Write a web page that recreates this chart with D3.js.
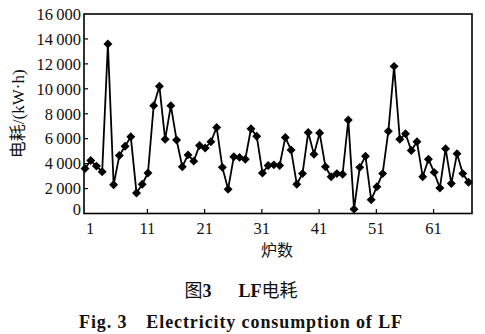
<!DOCTYPE html>
<html><head><meta charset="utf-8">
<script src="https://cdn.jsdelivr.net/npm/d3@7"></script>
<style>body{margin:0;background:#fff}svg{display:block}</style>
</head><body>
<svg id="c" width="485" height="334"></svg>
<script>
const furnaces = d3.range(1, 69);
const energy = [3600,4250,3800,3350,13600,2300,4650,5400,6150,1650,
  2350,3250,8650,10200,5950,8650,5900,3750,4700,4200,
  5450,5250,5750,6900,3700,1950,4550,4500,4350,6800,
  6200,3250,3850,3900,3850,6100,5100,2350,3200,6500,
  4750,6450,3750,2950,3200,3150,7500,350,3700,4600,
  1100,2150,3200,6600,11800,5950,6400,5050,5750,2950,
  4350,3300,2050,5200,2400,4800,3200,2500];
const xTicks = [1,11,21,31,41,51,61];
const yTicks = [0,2000,4000,6000,8000,10000,12000,14000,16000];
const xLabel = "炉数";
const captionEN = "Fig. 3\u2003Electricity consumption of LF";

const svg = d3.select("#c");
const L = 84, R = 472, T = 14, B = 213.5;
const x = d3.scaleLinear().domain([1, 68]).range([85, 468.5]);
const tickShift = 0.9;
const y = d3.scaleLinear().domain([0, 16000]).range([B, T]);
const serif = "'Liberation Serif','DejaVu Serif',serif";
const cjk = "'Noto Sans CJK SC',sans-serif";

// frame
svg.append("rect").attr("x", L).attr("y", T).attr("width", R - L).attr("height", B - T)
  .attr("fill", "none").attr("stroke", "#000").attr("stroke-width", 1.6);

// y ticks (inward) & labels
const fmt = v => v >= 1000 ? d3.format(",")(v).replace(/,/g, "\u2009") : String(v);
yTicks.forEach(v => {
  if (v !== 0 && v !== 16000)
    svg.append("line").attr("x1", L).attr("x2", L + 4).attr("y1", y(v)).attr("y2", y(v))
      .attr("stroke", "#000").attr("stroke-width", 1.2);
  svg.append("text").attr("x", 81).attr("y", v === 0 ? y(v) - 4 : y(v))
    .attr("dy", "0.35em").attr("text-anchor", "end")
    .attr("font-family", serif).attr("font-size", 16.5).attr("fill", "#111").text(fmt(v));
});
// x ticks (inward) & labels
xTicks.forEach(v => {
  const px = x(v + tickShift);
  if (v !== 1)
    svg.append("line").attr("x1", px).attr("x2", px).attr("y1", B).attr("y2", B - 4.5)
      .attr("stroke", "#000").attr("stroke-width", 1.2);
  svg.append("text").attr("x", px).attr("y", 233.5).attr("text-anchor", "middle")
    .attr("font-family", serif).attr("font-size", 16.5).attr("fill", "#111").text(v);
});

// series
const pts = furnaces.map((f, i) => [f, energy[i]]);
svg.append("path").datum(pts)
  .attr("d", d3.line().x(d => x(d[0])).y(d => y(d[1])))
  .attr("fill", "none").attr("stroke", "#000").attr("stroke-width", 1.8);
const sym = d3.symbol().type(d3.symbolSquare).size(40);
svg.append("g").selectAll("path").data(pts).join("path")
  .attr("d", sym)
  .attr("transform", d => `translate(${x(d[0])},${y(d[1])}) rotate(45)`)
  .attr("fill", "#000");

// axis titles
const yl = svg.append("text").attr("transform", `translate(24,${(T + B) / 2}) rotate(-90)`)
  .attr("text-anchor", "middle").attr("font-size", 17).attr("fill", "#111").attr("font-family", cjk);
yl.append("tspan").text("电耗");
yl.append("tspan").attr("font-family", serif).text("/(kW·h)");
svg.append("text").attr("x", 277).attr("y", 255.5).attr("text-anchor", "middle")
  .attr("font-family", cjk).attr("font-size", 16).attr("fill", "#111").text(xLabel);

// captions
const cn = svg.append("text").attr("x", 241).attr("y", 297).attr("text-anchor", "middle")
  .attr("font-size", 18).attr("fill", "#111").attr("font-family", cjk);
cn.append("tspan").text("图");
cn.append("tspan").attr("font-family", serif).attr("font-weight", "bold").text("3\u2003\u2002LF");
cn.append("tspan").text("电耗");
svg.append("text").attr("x", 241).attr("y", 328).attr("text-anchor", "middle")
  .attr("font-family", serif).attr("font-weight", "bold").attr("font-size", 18)
  .attr("letter-spacing", 0.9).attr("fill", "#111").text(captionEN);
</script>
</body></html>
